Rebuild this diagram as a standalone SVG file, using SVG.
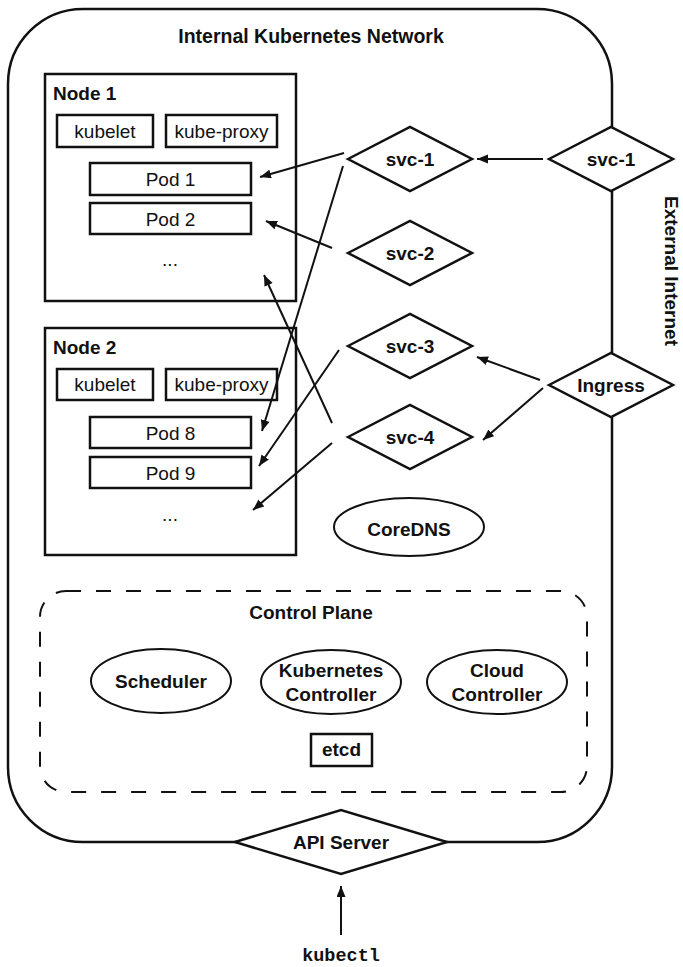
<svg xmlns="http://www.w3.org/2000/svg" width="683" height="967" viewBox="0 0 683 967">
<style>
text{font-family:"Liberation Sans",Arial,Helvetica,sans-serif;fill:#111;}
.b{font-weight:bold;font-size:19px;}
.r{font-size:19px;}
.t{font-weight:bold;font-size:19.5px;}
.m{text-anchor:middle;}
.box{fill:#fff;stroke:#111;stroke-width:2.5;}
.shape{fill:#fff;stroke:#111;stroke-width:2.5;stroke-linejoin:miter;}
.ell{fill:#fff;stroke:#111;stroke-width:2;}
.edge{fill:none;stroke:#111;stroke-width:2;}
.mono{font-family:"Liberation Mono","Courier New",monospace;font-weight:bold;font-size:18.5px;}
</style>
<defs>
<marker id="arr" markerUnits="userSpaceOnUse" markerWidth="12" markerHeight="10" refX="11" refY="4.5" orient="auto">
<path d="M0,0 L11,4.5 L0,9 Z" fill="#111"/>
</marker>
</defs>

<g id="network">
<path class="edge" style="stroke-width:2.5" d="M83,9 H537 A75,75 0 0 1 612,84 V767 A75,75 0 0 1 537,842 H83 A75,75 0 0 1 8,767 V84 A75,75 0 0 1 83,9 Z"/>
<text class="t m" x="311" y="43">Internal Kubernetes Network</text>
<text class="b m" x="665" y="271" transform="rotate(90 665 271)">External Internet</text>
</g>

<g id="node1">
<rect class="box" x="45" y="74" width="251" height="227"/>
<text class="b" x="53" y="100">Node 1</text>
<rect class="box" x="57" y="115" width="96" height="32"/>
<text class="r m" x="105" y="138">kubelet</text>
<rect class="box" x="166" y="115" width="111" height="32"/>
<text class="r m" x="221.5" y="138">kube-proxy</text>
<rect class="box" x="90" y="163" width="161" height="32"/>
<text class="r m" x="170.5" y="186">Pod 1</text>
<rect class="box" x="90" y="203" width="161" height="31"/>
<text class="r m" x="170.5" y="226">Pod 2</text>
<text class="r m" x="170" y="266">...</text>
</g>

<g id="node2">
<rect class="box" x="45" y="328" width="251" height="227"/>
<text class="b" x="53" y="354">Node 2</text>
<rect class="box" x="57" y="369" width="96" height="31"/>
<text class="r m" x="105" y="391">kubelet</text>
<rect class="box" x="166" y="369" width="111" height="31"/>
<text class="r m" x="221.5" y="391">kube-proxy</text>
<rect class="box" x="90" y="417" width="161" height="31"/>
<text class="r m" x="170.5" y="440">Pod 8</text>
<rect class="box" x="90" y="457" width="161" height="31"/>
<text class="r m" x="170.5" y="480">Pod 9</text>
<text class="r m" x="170" y="521">...</text>
</g>

<g id="connectors">
<line class="edge" x1="543" y1="159" x2="477" y2="159" marker-end="url(#arr)"/>
<line class="edge" x1="344" y1="153" x2="260" y2="177" marker-end="url(#arr)"/>
<line class="edge" x1="343" y1="166" x2="262" y2="431" marker-end="url(#arr)"/>
<line class="edge" x1="332" y1="248" x2="266" y2="221" marker-end="url(#arr)"/>
<line class="edge" x1="339" y1="350" x2="259" y2="466" marker-end="url(#arr)"/>
<line class="edge" x1="332" y1="423" x2="264" y2="275" marker-end="url(#arr)"/>
<line class="edge" x1="332" y1="443" x2="253" y2="510" marker-end="url(#arr)"/>
<line class="edge" x1="540" y1="380" x2="477" y2="357" marker-end="url(#arr)"/>
<line class="edge" x1="543" y1="388" x2="483" y2="440" marker-end="url(#arr)"/>
<line class="edge" x1="341" y1="935" x2="341" y2="886" marker-end="url(#arr)"/>
</g>

<g id="svc1-ext">
<polygon class="shape" points="549,159 611,127 673,159 611,191"/>
<text class="b m" x="611" y="165.5">svc-1</text>
</g>
<g id="ingress">
<polygon class="shape" points="549,385 611,353 673,385 611,417"/>
<text class="b m" x="611" y="391.5">Ingress</text>
</g>
<g id="svc1">
<polygon class="shape" points="348,159 410,127 472,159 410,191"/>
<text class="b m" x="410" y="165.5">svc-1</text>
</g>
<g id="svc2">
<polygon class="shape" points="348,253 410,221 472,253 410,285"/>
<text class="b m" x="410" y="259.5">svc-2</text>
</g>
<g id="svc3">
<polygon class="shape" points="348,346 410,314 472,346 410,378"/>
<text class="b m" x="410" y="352.5">svc-3</text>
</g>
<g id="svc4">
<polygon class="shape" points="348,437 410,405 472,437 410,469"/>
<text class="b m" x="410" y="443.5">svc-4</text>
</g>
<g id="coredns">
<ellipse class="ell" cx="409" cy="527" rx="75" ry="29"/>
<text class="b m" x="409" y="536">CoreDNS</text>
</g>

<g id="control-plane">
<rect x="40" y="591" width="547" height="201" rx="26" ry="26" fill="none" stroke="#111" stroke-width="2" stroke-dasharray="15 15"/>
<text class="b m" x="311" y="619">Control Plane</text>
</g>
<g id="scheduler">
<ellipse class="ell" cx="161" cy="681" rx="70" ry="32"/>
<text class="b m" x="161" y="688">Scheduler</text>
</g>
<g id="kube-controller">
<ellipse class="ell" cx="331" cy="682" rx="70" ry="32"/>
<text class="b m" x="331" y="677">Kubernetes</text>
<text class="b m" x="331" y="701">Controller</text>
</g>
<g id="cloud-controller">
<ellipse class="ell" cx="497" cy="682" rx="70" ry="32"/>
<text class="b m" x="497" y="677">Cloud</text>
<text class="b m" x="497" y="701">Controller</text>
</g>
<g id="etcd">
<rect class="box" x="311" y="734" width="61" height="32"/>
<text class="b m" x="341.5" y="756">etcd</text>
</g>

<g id="api-server">
<polygon class="shape" points="235,842 341,810 447,842 341,874"/>
<text class="b m" x="341" y="848.5">API Server</text>
</g>
<g id="kubectl">
<text class="mono m" x="341" y="961">kubectl</text>
</g>
</svg>
